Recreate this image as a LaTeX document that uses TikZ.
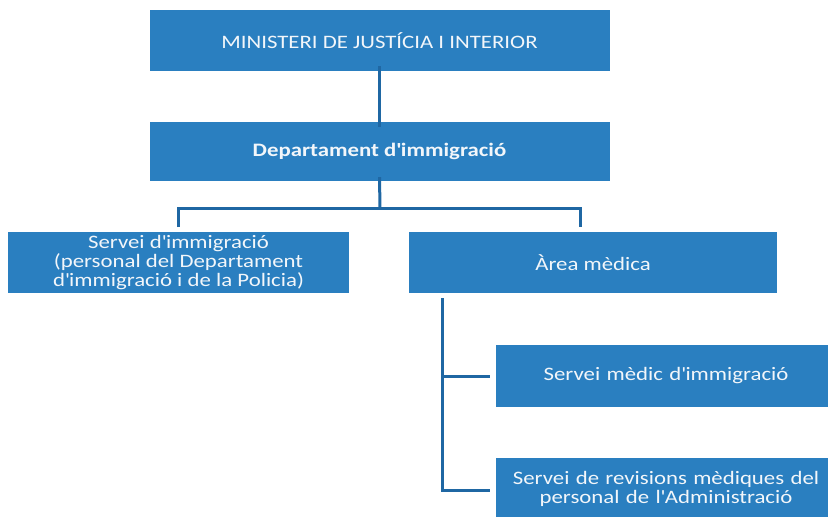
\documentclass[tikz,border=0pt]{standalone}
\usepackage{fontspec}
\setmainfont{Carlito}[FakeStretch=1.2]
\newcommand{\apo}{\textquotesingle}
\definecolor{boxblue}{HTML}{2A7FC0}
\definecolor{lineblue}{HTML}{1F67A3}
\definecolor{txt}{HTML}{F2F6FA}
\begin{document}
\begin{tikzpicture}[x=1pt,y=-1pt,
  box/.style={fill=boxblue,draw=none,inner sep=0pt,text=txt,align=center,font=\fontsize{19}{19}\selectfont},
  conn/.style={draw=lineblue,line width=3pt}]
\useasboundingbox (0,0) rectangle (828,517);
\node[box,minimum width=460,minimum height=61] (min) at (379.5,40.5) {MINISTERI DE JUSTÍCIA I INTERIOR};
\node[box,minimum width=460,minimum height=59] (dep) at (379.5,151.5) {\bfseries Departament d\apo immigració};
\node[box,minimum width=341,minimum height=61] (sim) at (178.5,262.5) {Servei d\apo immigració\\(personal del Departament\\d\apo immigració i de la Policia)};
\node[box,minimum width=368,minimum height=61] (med) at (593,262.5) {Àrea mèdica};
\node[box,minimum width=340,minimum height=62,text width=330] (smi) at (666,376) {Servei mèdic d\apo immigració};
\node[box,minimum width=340,minimum height=62,text width=330] (srm) at (666,489) {Servei de revisions mèdiques del\\personal de l\apo Administració};
\coordinate (bj) at (380,208);
\draw[conn] ([yshift=5]min.south) -- ([yshift=-5]dep.north);
\draw[conn] ([yshift=4]dep.south) -- (bj);
\draw[conn] (178,227) |- (bj) -| (580,227);
\draw[conn] (442,298) |- ([xshift=-6]smi.west);
\draw[conn] (442,298) |- ([xshift=-6]srm.west |- 0,490);
\end{tikzpicture}
\end{document}
